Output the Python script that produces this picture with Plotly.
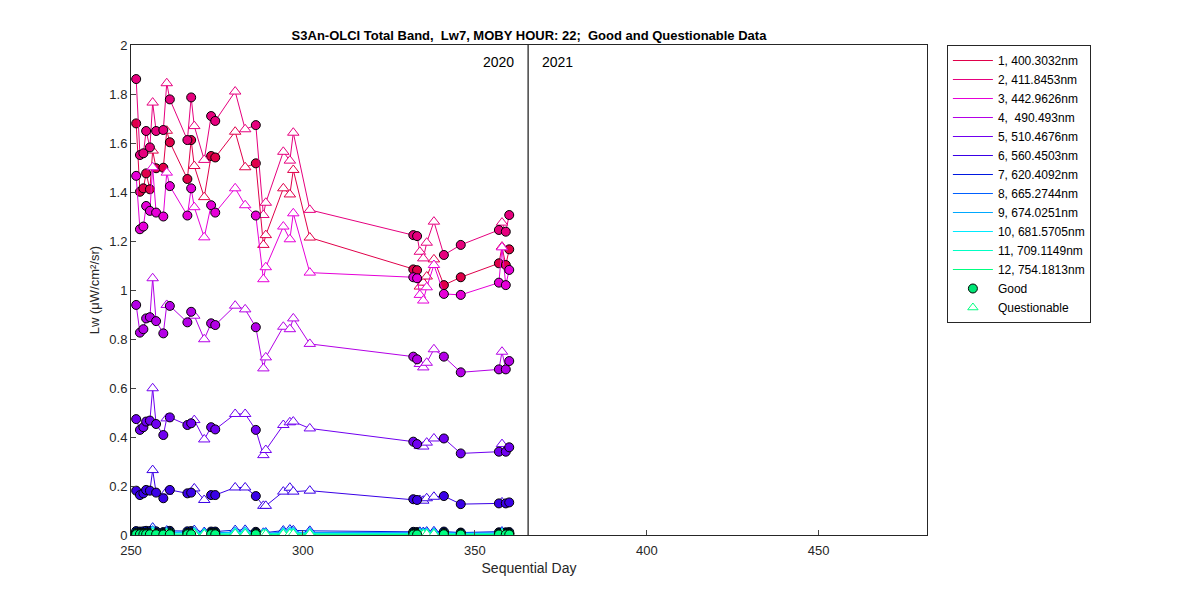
import plotly.graph_objects as go

days = [251.5, 252.6, 253.6, 254.4, 255.5, 256.3, 257.3, 259.4, 260.4, 261.3, 266.4, 267.5, 268.4, 271.3,
        273.3, 274.5, 280.3, 283.2, 286.3, 288.5, 289.2, 294.3, 296.2, 297.2, 302.0, 332.1, 333.2, 334.0,
        335.0, 336.0, 338.1, 341.0, 345.9, 357.0, 357.9, 359.0, 360.0]
quality = ["G", "G", "G", "G", "G", "Q", "G", "G", "Q", "G", "G", "G", "Q", "Q", "G", "G", "Q", "Q", "G",
           "Q", "Q", "Q", "Q", "Q", "Q", "G", "G", "Q", "Q", "Q", "Q", "G", "G", "G", "Q", "G", "G"]

band_names = ["1, 400.3032nm", "2, 411.8453nm", "3, 442.9626nm", "4,  490.493nm", "5, 510.4676nm",
              "6, 560.4503nm", "7, 620.4092nm", "8, 665.2744nm", "9, 674.0251nm", "10, 681.5705nm",
              "11, 709.1149nm", "12, 754.1813nm"]
band_colors = ["#e0004a", "#e6007e", "#e600d8", "#b400e6", "#7000f0", "#3a00e6", "#0018e0", "#0060ff",
               "#00a8ff", "#00eaff", "#00ffc4", "#00ff80"]

lw1 = [1.680, 1.401, 1.415, 1.476, 1.411, 1.569, 1.497, 1.499, 1.650, 1.603, 1.453, 1.612, 1.506, 1.379,
       1.547, 1.541, 1.646, 1.501, 1.517, 1.184, 1.224, 1.415, 1.390, 1.490, 1.214, 1.084, 1.081, 1.014,
       1.030, 1.055, 1.125, 1.020, 1.052, 1.109, 1.177, 1.102, 1.166]
lw2 = [1.861, 1.551, 1.558, 1.649, 1.582, 1.765, 1.649, 1.653, 1.844, 1.778, 1.612, 1.786, 1.669, 1.531,
       1.710, 1.690, 1.810, 1.656, 1.673, 1.306, 1.356, 1.564, 1.528, 1.642, 1.327, 1.224, 1.220, 1.156,
       1.129, 1.193, 1.279, 1.143, 1.184, 1.245, 1.275, 1.238, 1.306]
lw3 = [1.466, 1.248, 1.259, 1.343, 1.323, 1.501, 1.316, 1.300, 1.479, 1.424, 1.304, 1.415, 1.338, 1.215,
       1.346, 1.316, 1.415, 1.346, 1.304, 1.044, 1.093, 1.259, 1.207, 1.313, 1.071, 1.052, 1.048, 0.980,
       0.957, 1.011, 1.102, 0.984, 0.980, 1.030, 1.174, 1.020, 1.082]
lw4 = [0.939, 0.826, 0.840, 0.884, 0.889, 1.048, 0.873, 0.823, 0.939, 0.935, 0.868, 0.911, 0.895, 0.799,
       0.864, 0.857, 0.936, 0.921, 0.848, 0.680, 0.725, 0.850, 0.840, 0.884, 0.780, 0.728, 0.717, 0.698,
       0.684, 0.703, 0.758, 0.728, 0.664, 0.676, 0.748, 0.676, 0.710]
lw5 = [0.473, 0.429, 0.440, 0.463, 0.467, 0.599, 0.453, 0.408, 0.476, 0.480, 0.449, 0.456, 0.469, 0.390,
       0.440, 0.431, 0.494, 0.494, 0.429, 0.326, 0.347, 0.449, 0.460, 0.463, 0.435, 0.381, 0.371, 0.363,
       0.361, 0.377, 0.394, 0.394, 0.333, 0.340, 0.371, 0.340, 0.358]
lw6 = [0.181, 0.163, 0.170, 0.184, 0.181, 0.265, 0.173, 0.150, 0.177, 0.184, 0.170, 0.173, 0.190, 0.143,
       0.163, 0.163, 0.194, 0.194, 0.159, 0.119, 0.119, 0.177, 0.193, 0.177, 0.181, 0.146, 0.143, 0.143,
       0.140, 0.150, 0.156, 0.159, 0.126, 0.129, 0.133, 0.129, 0.133]
lw7 = [0.016, 0.014, 0.015, 0.017, 0.016, 0.030, 0.015, 0.012, 0.018, 0.017, 0.015, 0.016, 0.020, 0.012,
       0.014, 0.014, 0.020, 0.021, 0.013, 0.009, 0.010, 0.018, 0.022, 0.019, 0.017, 0.013, 0.012, 0.013,
       0.012, 0.014, 0.015, 0.014, 0.010, 0.011, 0.014, 0.011, 0.012]
lw8 = [0.010, 0.009, 0.009, 0.010, 0.010, 0.018, 0.009, 0.008, 0.011, 0.011, 0.009, 0.010, 0.012, 0.008,
       0.009, 0.009, 0.012, 0.013, 0.008, 0.006, 0.006, 0.011, 0.013, 0.012, 0.010, 0.008, 0.008, 0.008,
       0.008, 0.009, 0.009, 0.009, 0.007, 0.007, 0.009, 0.007, 0.008]
lw9 = [0.009, 0.008, 0.008, 0.009, 0.009, 0.016, 0.008, 0.007, 0.010, 0.010, 0.008, 0.009, 0.011, 0.007,
       0.008, 0.008, 0.011, 0.012, 0.007, 0.005, 0.006, 0.010, 0.012, 0.011, 0.009, 0.007, 0.007, 0.007,
       0.007, 0.008, 0.008, 0.008, 0.006, 0.006, 0.008, 0.006, 0.007]
lw10 = [0.007, 0.006, 0.006, 0.007, 0.007, 0.013, 0.006, 0.005, 0.008, 0.008, 0.006, 0.007, 0.009, 0.005,
        0.006, 0.006, 0.009, 0.010, 0.006, 0.004, 0.004, 0.008, 0.010, 0.009, 0.007, 0.005, 0.005, 0.005,
        0.005, 0.006, 0.006, 0.006, 0.004, 0.005, 0.006, 0.005, 0.005]
lw11 = [0.005, 0.004, 0.004, 0.005, 0.005, 0.009, 0.004, 0.004, 0.006, 0.005, 0.004, 0.005, 0.006, 0.004,
        0.004, 0.004, 0.006, 0.007, 0.004, 0.003, 0.003, 0.005, 0.007, 0.006, 0.005, 0.004, 0.004, 0.004,
        0.004, 0.004, 0.004, 0.004, 0.003, 0.003, 0.004, 0.003, 0.004]
lw12 = [0.003, 0.003, 0.003, 0.003, 0.003, 0.006, 0.003, 0.002, 0.004, 0.003, 0.003, 0.003, 0.004, 0.002,
        0.003, 0.003, 0.004, 0.004, 0.003, 0.002, 0.002, 0.003, 0.004, 0.004, 0.003, 0.002, 0.002, 0.002,
        0.002, 0.003, 0.003, 0.003, 0.002, 0.002, 0.003, 0.002, 0.002]
bands = [lw1, lw2, lw3, lw4, lw5, lw6, lw7, lw8, lw9, lw10, lw11, lw12]

fig = go.Figure()
for name, col, vals in zip(band_names, band_colors, bands):
    fig.add_trace(go.Scatter(x=days, y=vals, mode="lines", line=dict(color=col, width=1),
                             name=name, showlegend=True))
    gx = [d for d, q in zip(days, quality) if q == "G"]
    gy = [v for v, q in zip(vals, quality) if q == "G"]
    qx = [d for d, q in zip(days, quality) if q == "Q"]
    qy = [v for v, q in zip(vals, quality) if q == "Q"]
    fig.add_trace(go.Scatter(x=qx, y=qy, mode="markers", showlegend=False,
                             marker=dict(symbol="triangle-up", size=10, color="white",
                                         line=dict(color=col, width=1))))
    fig.add_trace(go.Scatter(x=gx, y=gy, mode="markers", showlegend=False,
                             marker=dict(symbol="circle", size=9, color=col,
                                         line=dict(color="black", width=1))))

fig.add_trace(go.Scatter(x=[None], y=[None], mode="markers", name="Good",
                         marker=dict(symbol="circle", size=9, color="#00e676", line=dict(color="black", width=1))))
fig.add_trace(go.Scatter(x=[None], y=[None], mode="markers", name="Questionable",
                         marker=dict(symbol="triangle-up-open", size=9, color="#00ff80", line=dict(width=1))))

fig.add_shape(type="line", x0=365.5, x1=365.5, y0=0, y1=2, xref="x", yref="y",
              line=dict(color="#444444", width=1.5))
fig.add_annotation(x=362, y=1.97, xref="x", yref="y", text="2020", showarrow=False,
                   xanchor="right", yanchor="top", font=dict(size=14, color="black"))
fig.add_annotation(x=369, y=1.97, xref="x", yref="y", text="2021", showarrow=False,
                   xanchor="left", yanchor="top", font=dict(size=14, color="black"))

fig.update_layout(
    width=1200, height=600, plot_bgcolor="white", paper_bgcolor="white",
    font=dict(family="Liberation Sans, Arial", size=13, color="#262626"),
    margin=dict(l=123, r=281, t=37, b=73, autoexpand=False),
    title=dict(text="<b>S3An-OLCI Total Band,  Lw7, MOBY HOUR: 22;  Good and Questionable Data</b>",
               x=(123 + 919) / 2 / 1200, xanchor="center", y=0.962, font=dict(size=13, color="black")),
    xaxis=dict(range=[250, 481.5], tickvals=[250, 300, 350, 400, 450], ticks="inside", ticklen=5,
               showgrid=False, zeroline=False, showline=True, mirror=True, linecolor="#262626",
               automargin=False, ticklabelstandoff=3,
               title=dict(text="Sequential Day", standoff=6, font=dict(size=14))),
    yaxis=dict(range=[0, 2], tickvals=[0, 0.2, 0.4, 0.6, 0.8, 1, 1.2, 1.4, 1.6, 1.8, 2],
               ticktext=["0", "0.2", "0.4", "0.6", "0.8", "1", "1.2", "1.4", "1.6", "1.8", "2"],
               ticks="inside", ticklen=5, showgrid=False, zeroline=False, showline=True, mirror=True,
               linecolor="#262626", automargin=False,
               title=dict(text="Lw (μW/cm²/sr)", standoff=6, font=dict(size=13))),
    legend=dict(x=1.025, y=1.0, xanchor="left", yanchor="top", bordercolor="#262626", borderwidth=1,
                font=dict(size=12, color="black"), tracegroupgap=0, itemwidth=40, bgcolor="white"),
)
fig.write_html("out.html")
